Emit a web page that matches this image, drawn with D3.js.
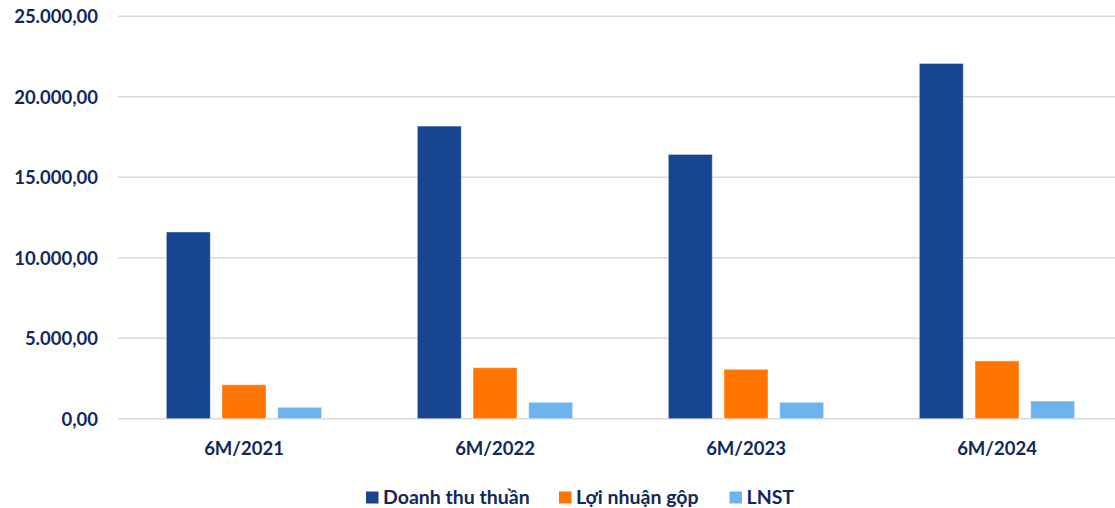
<!DOCTYPE html>
<html>
<head>
<meta charset="utf-8">
<script src="https://cdn.jsdelivr.net/npm/d3@7"></script>
<style>
  html, body { margin: 0; padding: 0; background: #ffffff; }
  svg { display: block; }
  text { font-family: Lato, "Open Sans", "Noto Sans", sans-serif; font-weight: 700; fill: #10285a; }
</style>
</head>
<body>
<svg id="chart" width="1115" height="508"></svg>
<script>
// Half-year results (billion VND)
const periods = ["6M/2021", "6M/2022", "6M/2023", "6M/2024"];
const seriesNames = ["Doanh thu thuần", "Lợi nhuận gộp", "LNST"];
const revenue = [11600, 18180, 16420, 22070];
const grossProfit = [2110, 3170, 3070, 3590];
const netProfit = [710, 1020, 1020, 1100];
const yTicks = [0, 5000, 10000, 15000, 20000, 25000];
const colors = ["#174592", "#ff7500", "#6db3ee"];

const seriesValues = [revenue, grossProfit, netProfit];

const svg = d3.select("#chart");
const plotLeft = 118, plotRight = 1122.5, plotTop = 16.3, plotBottom = 418.7;

const y = d3.scaleLinear().domain([0, 25000]).range([plotBottom, plotTop]);

const x0 = d3.scaleBand()
  .domain(periods)
  .range([plotLeft + 0.5, plotRight])
  .paddingInner(0.381)
  .paddingOuter(0.1905);

const x1 = d3.scaleBand()
  .domain(seriesNames)
  .range([0, x0.bandwidth()])
  .paddingInner(0.21)
  .paddingOuter(0);

const fmt = v => d3.format(",.2f")(v).replace(/,/g, "#").replace(/\./g, ",").replace(/#/g, ".");

// Gridlines
svg.append("g")
  .selectAll("line")
  .data(yTicks)
  .join("line")
  .attr("x1", plotLeft)
  .attr("x2", 1115)
  .attr("y1", d => y(d))
  .attr("y2", d => y(d))
  .attr("stroke", "#d9d9d9")
  .attr("stroke-width", 1.6);

// Y axis labels
const yAxis = d3.axisLeft(y).tickValues(yTicks).tickFormat(fmt).tickSize(0).tickPadding(0);
const gy = svg.append("g").attr("transform", "translate(98,0)").call(yAxis);
gy.select(".domain").remove();
gy.selectAll("text")
  .attr("font-size", 18.5)
  .attr("font-family", null)
  .attr("fill", "#10285a")
  .attr("dy", "0.35em");

// X axis labels
const xAxis = d3.axisBottom(x0).tickSize(0).tickPadding(0);
const gx = svg.append("g").attr("transform", "translate(0,449)").call(xAxis);
gx.select(".domain").remove();
gx.selectAll("text")
  .attr("font-size", 18.5)
  .attr("font-family", null)
  .attr("fill", "#10285a")
  .attr("dy", "0.35em")
  .attr("y", 0);

// Bars
const rows = periods.map((p, i) => ({
  period: p,
  values: seriesNames.map((s, j) => ({ series: s, value: seriesValues[j][i], color: colors[j] }))
}));

svg.append("g")
  .selectAll("g")
  .data(rows)
  .join("g")
  .attr("transform", d => `translate(${x0(d.period)},0)`)
  .selectAll("rect")
  .data(d => d.values)
  .join("rect")
  .attr("x", d => x1(d.series))
  .attr("width", x1.bandwidth())
  .attr("y", d => y(d.value))
  .attr("height", d => y(0) - y(d.value))
  .attr("fill", d => d.color)
  .attr("stroke", "rgba(255,255,255,0.45)")
  .attr("stroke-width", 1);

// Legend
const legendItems = [
  { name: seriesNames[0], color: colors[0], x: 366 },
  { name: seriesNames[1], color: colors[1], x: 559 },
  { name: seriesNames[2], color: colors[2], x: 729.5 }
];
const lg = svg.append("g");
const li = lg.selectAll("g").data(legendItems).join("g")
  .attr("transform", d => `translate(${d.x},491.5)`);
li.append("rect").attr("width", 12.5).attr("height", 12).attr("fill", d => d.color);
li.append("text")
  .attr("x", 17)
  .attr("y", 6)
  .attr("dy", "0.35em")
  .attr("font-size", 19.5)
  .text(d => d.name);
</script>
</body>
</html>
